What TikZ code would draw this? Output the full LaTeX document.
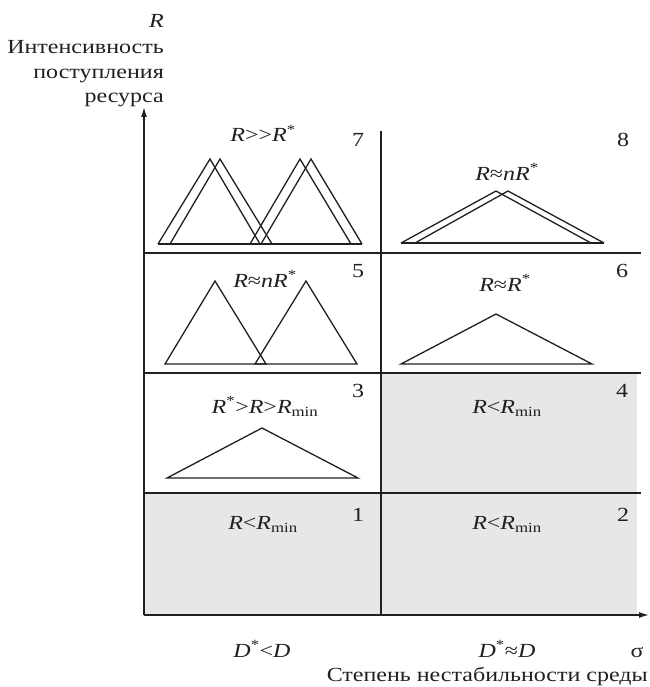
\documentclass[tikz,border=0pt]{standalone}
\usepackage{fontspec}
\setmainfont{Liberation Serif}[FakeStretch=1.2]
\usetikzlibrary{arrows.meta}
\definecolor{ink}{HTML}{231F20}
\definecolor{cellgray}{HTML}{E6E7E9}
\tikzset{
  >={Latex[length=10pt,width=6pt]},
  every node/.style={font=\fontsize{20}{24}\selectfont,text=ink,inner sep=0pt},
  axisline/.style={->,line width=1.4pt,draw=ink},
  gridline/.style={line width=1.4pt,draw=ink},
  tri/.style={line width=1.3pt,draw=ink,line join=miter},
  cond/.style={anchor=base},
  num/.style={anchor=base},
  axtitle/.style={anchor=base east},
}
\newcommand{\Ri}{\textit{R}}
\begin{document}
\begin{tikzpicture}[x=1pt,y=-1pt]
\useasboundingbox (0,0) rectangle (649,687);

% shaded cells 1, 2, 4
\fill[cellgray] (144,493) rectangle (637,615);
\fill[cellgray] (381,373) rectangle (637,493);

% axes
\coordinate (O) at (144,615);
\coordinate (ytip) at (144,107);
\coordinate (xtip) at (649,615);
\draw[axisline] (O) -- (ytip);
\draw[axisline] (O) -- (xtip);

% grid
\coordinate (mid) at (381,131);
\draw[gridline] (mid) -- (mid |- O);
\draw[gridline] (144,253) -- (641,253);
\draw[gridline] (144,373) -- (641,373);
\draw[gridline] (144,493) -- (641,493);

% axis titles
\node[axtitle] (rsym) at (164,28) {\Ri};
\node[axtitle] (rt1) at (164,54) {Интенсивность};
\node[axtitle] (rt2) at (164,79) {поступления};
\node[axtitle] (rt3) at (164,103) {ресурса};
\node[cond] (dlt) at (262,657) {\textit{D}\textsuperscript{*}<\textit{D}};
\node[cond] (dap) at (507,657) {\textit{D}\textsuperscript{*}≈\textit{D}};
\node[cond] (sig) at (637,657) {σ};
\node[axtitle] (st) at (648,681) {Степень нестабильности среды};

% cell 7
\node[cond] (c7) at (263,142) {\Ri>{}>\Ri\textsuperscript{*}};
\node[num] (n7) at (358,147) {7};
\draw[tri] (158,244) -- (210,159) -- (260,244);
\draw[tri] (170,244) -- (220,159) -- (272,244);
\draw[tri] (250,244) -- (300,159) -- (351,244);
\draw[tri] (261,244) -- (311,159) -- (362,244);
\draw[tri] (158,244) -- (362,244);

% cell 8
\node[cond] (c8) at (507,180) {\Ri≈\textit{n}\Ri\textsuperscript{*}};
\node[num] (n8) at (623,147) {8};
\draw[tri] (401,243) -- (496,191) -- (591,243);
\draw[tri] (415,243) -- (508,191) -- (604,243);
\draw[tri] (401,243) -- (604,243);

% cell 5
\node[cond] (c5) at (265,287) {\Ri≈\textit{n}\Ri\textsuperscript{*}};
\node[num] (n5) at (358,277) {5};
\draw[tri] (165,364) -- (215,281) -- (266,364) -- cycle;
\draw[tri] (255,364) -- (306,281) -- (357,364) -- cycle;

% cell 6
\node[cond] (c6) at (505,291) {\Ri≈\Ri\textsuperscript{*}};
\node[num] (n6) at (622,277) {6};
\draw[tri] (401,364) -- (496,314) -- (592,364) -- cycle;

% cell 3
\node[cond] (c3) at (265,413) {\Ri\textsuperscript{*}>\Ri>\Ri\textsubscript{min}};
\node[num] (n3) at (358,397) {3};
\draw[tri] (167,478) -- (262,428) -- (358,478) -- cycle;

% cell 4
\node[cond] (c4) at (507,413) {\Ri<\Ri\textsubscript{min}};
\node[num] (n4) at (622,397) {4};

% cells 1, 2
\node[cond] (c1) at (263,529) {\Ri<\Ri\textsubscript{min}};
\node[num] (n1) at (358,521) {1};
\node[cond] (c2) at (507,529) {\Ri<\Ri\textsubscript{min}};
\node[num] (n2) at (623,521) {2};

\end{tikzpicture}
\end{document}
